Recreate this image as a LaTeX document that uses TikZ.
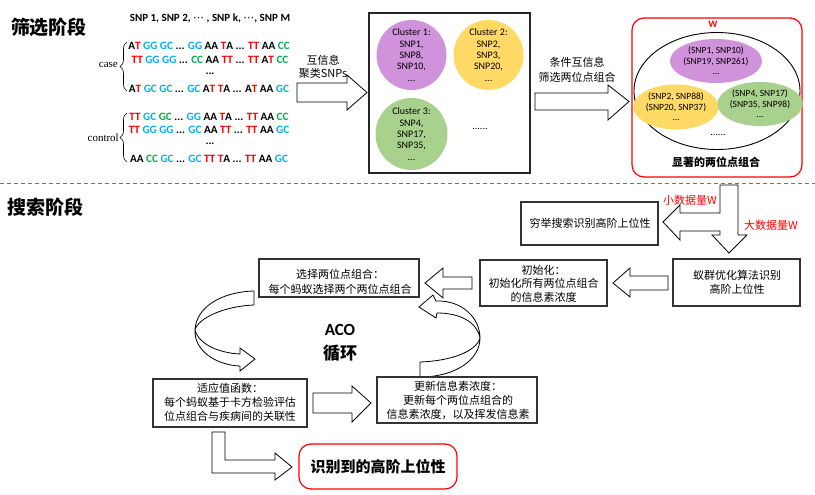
\documentclass[tikz,border=0pt]{standalone}
\usepackage{fontspec}
\setmainfont{Carlito}
\newfontfamily\cjk{Noto Sans CJK SC}
\newfontfamily\tms{Liberation Serif}
\newfontfamily\dejavu{DejaVu Sans}
\usetikzlibrary{shapes.geometric,decorations.pathreplacing}
\definecolor{myred}{RGB}{255,0,0}
\definecolor{myblue}{RGB}{0,176,240}
\definecolor{mygreen}{RGB}{0,176,80}
\definecolor{cpurple}{RGB}{208,146,218}
\definecolor{cyellow}{RGB}{255,217,102}
\definecolor{cgreen}{RGB}{169,209,142}
\newcommand{\Rd}[1]{\textcolor{myred}{#1}}
\newcommand{\Bl}[1]{\textcolor{myblue}{#1}}
\newcommand{\Gn}[1]{\textcolor{mygreen}{#1}}
\newcommand{\harrow}[7]{\draw[blk] (#1,#4) -- (#2,#4) -- (#2,#6) -- (#3,{(#4+#5)/2}) -- (#2,#7) -- (#2,#5) -- (#1,#5) -- cycle;}
\begin{document}
\begin{tikzpicture}[x=1pt,y=-1pt,
  box/.style={draw=black!80, line width=1.1pt, fill=white, inner sep=0pt},
  txt/.style={inner sep=0pt, align=center, font=\cjk\fontsize{11}{14}\selectfont},
  blk/.style={draw=black, line width=0.8pt, fill=white, line join=miter},
  seq/.style={inner sep=0pt, anchor=base, font=\bfseries\fontsize{11.2}{12}\selectfont},
  cl/.style={circle, inner sep=0pt, minimum size=70pt, align=center, font=\fontsize{10}{11.3}\selectfont},
  el/.style={ellipse, inner sep=0pt, align=center, font=\fontsize{9.5}{10.5}\selectfont},
  title/.style={inner sep=0pt, font=\cjk\bfseries\fontsize{19}{19}\selectfont},
  redbox/.style={draw=myred, line width=1.2pt, rounded corners=12pt, inner sep=0pt},
]
\useasboundingbox (0,0) rectangle (815,495);
\fill[white] (0,0) rectangle (815,495);

% ---------- titles ----------
\node[title] (t1) at (49,27) {筛选阶段};
\node[title] (t2) at (46,207) {搜索阶段};
\draw[black!55, line width=0.8pt, dash pattern=on 4pt off 3pt] (0,183) -- (815,183);

% ---------- sequences ----------
\node[inner sep=0pt, font=\bfseries\fontsize{11}{11}\selectfont] (hdr) at (210,18) {SNP 1, SNP 2, {\dejavu\mdseries ⋯} , SNP k, {\dejavu\mdseries ⋯}, SNP M};
\node[seq] (r1) at (209,50) {A\Rd{T} \Bl{GG GC} ... \Bl{GG} AA \Rd{T}A ... \Rd{TT} AA \Gn{CC}};
\node[seq] (r2) at (210,64) {\Rd{TT} \Bl{GG GG} ... \Gn{CC} AA \Rd{TT} ... \Rd{TT} A\Rd{T} \Gn{CC}};
\node[seq] (r3) at (210,75) {...};
\node[seq] (r4) at (209,93) {A\Rd{T} \Bl{GC GC} ... \Bl{GC} A\Rd{T} \Rd{T}A ... A\Rd{T} AA \Bl{GC}};
\node[seq] (s1) at (209,121) {\Rd{TT} \Bl{GC} \Gn{GC} ... \Bl{GG} AA \Rd{T}A ... \Rd{TT} AA \Gn{CC}};
\node[seq] (s2) at (209,134) {\Rd{TT} \Bl{GG GG} ... \Bl{GC} AA \Rd{TT} ... \Rd{TT} AA \Bl{GC}};
\node[seq] (s3) at (210,145) {...};
\node[seq] (s4) at (209,162) {AA \Gn{CC} \Bl{GC} ... \Bl{GC} \Rd{TT} \Rd{T}A ... \Rd{TT} AA \Bl{GC}};
\draw[decorate, decoration={brace, amplitude=7pt}, line width=0.6pt] (127,91) -- (127,42);
\draw[decorate, decoration={brace, amplitude=7pt}, line width=0.6pt] (127,162) -- (127,113);
\node[inner sep=0pt, anchor=east, font=\tms\fontsize{11}{11}\selectfont] (lcase) at (118,65) {case};
\node[inner sep=0pt, anchor=east, font=\tms\fontsize{11}{11}\selectfont] (lctrl) at (119,138) {control};

% ---------- arrow 1 ----------
\harrow{297}{347}{367}{83}{102}{75}{110}
\node[txt] (a1t) at (323,67) {互信息\\[-1pt]聚类SNPs};

% ---------- cluster box ----------
\node[box, draw=black!85, minimum width=161pt, minimum height=160pt] (cbox) at (449.5,93) {};
\node[cl, fill=cpurple] (c1) at (411.5,55) {Cluster 1:\\SNP1,\\SNP8,\\SNP10,\\...};
\node[cl, fill=cyellow] (c2) at (488.5,55) {Cluster 2:\\SNP2,\\SNP3,\\SNP20,\\...};
\node[cl, fill=cgreen, minimum size=72pt] (c3) at (411.5,134) {Cluster 3:\\SNP4,\\SNP17,\\SNP35,\\...};
\node[inner sep=0pt, font=\fontsize{10}{10}\selectfont] (cdots) at (480,129) {......};

% ---------- arrow 2 ----------
\harrow{535}{608}{629}{93}{110}{85}{120}
\node[txt] (a2t) at (577,70) {条件互信息\\[1pt]筛选两位点组合};

% ---------- W box ----------
\node[redbox, minimum width=170pt, minimum height=159pt] (wbox) at (717,97.5) {};
\node[inner sep=0pt, text=myred, font=\bfseries\fontsize{10}{10}\selectfont] (wl) at (713,24) {W};
\node[ellipse, draw=black, line width=0.9pt, minimum width=166pt, minimum height=117pt] (bigE) at (717,91) {};
\node[el, fill=cpurple, minimum width=86pt, minimum height=44pt] (e1) at (716,61) {(SNP1, SNP10)\\(SNP19, SNP261)\\...};
\node[el, fill=cyellow, minimum width=78pt, minimum height=45pt] (e2) at (676,107) {(SNP2, SNP88)\\(SNP20, SNP37)\\...};
\node[el, fill=cgreen, minimum width=82pt, minimum height=44pt] (e3) at (760,104) {(SNP4, SNP17)\\(SNP35, SNP98)\\...};
\node[inner sep=0pt, font=\fontsize{10}{10}\selectfont] (edots) at (718,135) {......};
\node[inner sep=0pt, font=\cjk\bfseries\fontsize{11}{11}\selectfont] (sig) at (716,162) {显著的两位点组合};

% ---------- search stage ----------
\node[box, minimum width=137pt, minimum height=43pt] (exh) at (589.5,223.5) {};
\node[txt] (exhT) at (590,223) {穷举搜索识别高阶上位性};
\draw[blk] (720,185) -- (738,185) -- (738,235) -- (747,235) -- (729,253) -- (712,235) -- (720,235) -- (720,231) -- (680,231) -- (680,240) -- (663,222) -- (680,205) -- (680,213) -- (720,213) -- cycle;
\node[inner sep=0pt, text=myred, font=\cjk\fontsize{11}{11}\selectfont] (smallW) at (690,200) {小数据量W};
\node[inner sep=0pt, text=myred, font=\cjk\fontsize{11}{11}\selectfont] (bigW) at (771,225) {大数据量W};

\node[box, minimum width=127pt, minimum height=47pt] (ant) at (736.5,282.5) {};
\node[txt, font=\cjk\fontsize{11}{14}\selectfont] (antT) at (737,282) {蚁群优化算法识别\\高阶上位性};
\harrow{668}{630}{613}{276}{290}{268}{297}
\node[box, minimum width=127pt, minimum height=46pt] (init) at (543.5,283) {};
\node[txt, font=\cjk\fontsize{11}{13.5}\selectfont] (initT) at (543.5,283.5) {初始化：\\初始化所有两位点组合\\的信息素浓度};
\harrow{472}{443}{425}{277}{289}{268}{298}
\node[box, minimum width=160pt, minimum height=38pt] (sel) at (339,278) {};
\node[txt, font=\cjk\fontsize{11}{15}\selectfont] (selT) at (340,282) {选择两位点组合：\\每个蚂蚁选择两个两位点组合};

% curved arrows
\draw[blk] (254,291) -- (254,305) .. controls (225,306) and (198,318) .. (195,330) .. controls (199,345) and (220,353) .. (240,354) -- (240,348) -- (255,359) -- (240,371) -- (240,366) .. controls (215,365) and (194,350) .. (195,330) .. controls (196,308) and (220,292) .. (254,291) -- cycle;
\draw[blk] (420,377) -- (420,362) .. controls (450,361) and (476,352) .. (480,338) .. controls (477,322) and (460,313) .. (437,313) -- (436,318) -- (419,307) -- (433,295) -- (436,301) .. controls (462,300) and (480,318) .. (480,338) .. controls (480,360) and (455,377) .. (420,377) -- cycle;

\node[inner sep=0pt, font=\bfseries\fontsize{17}{17}\selectfont] (aco) at (340,330) {ACO};
\node[inner sep=0pt, font=\cjk\bfseries\fontsize{17}{17}\selectfont] (loop) at (340,353) {循环};

\node[box, minimum width=154pt, minimum height=48pt] (fit) at (230,403) {};
\node[txt] (fitT) at (230,402.5) {适应值函数：\\每个蚂蚁基于卡方检验评估\\位点组合与疾病间的关联性};
\harrow{313}{352}{371}{393}{413}{386}{422}
\node[box, minimum width=160pt, minimum height=46pt] (upd) at (457,400) {};
\node[txt] (updT) at (458,400) {更新信息素浓度：\\更新每个两位点组合的\\信息素浓度，以及挥发信息素};

\draw[blk] (212,432) -- (225,432) -- (225,460) -- (275,460) -- (275,453) -- (292,467) -- (275,480) -- (275,473) -- (212,473) -- cycle;
\node[redbox, minimum width=158pt, minimum height=45pt, font=\cjk\bfseries\fontsize{15}{15}\selectfont] (res) at (378,466.5) {识别到的高阶上位性};
\end{tikzpicture}
\end{document}
